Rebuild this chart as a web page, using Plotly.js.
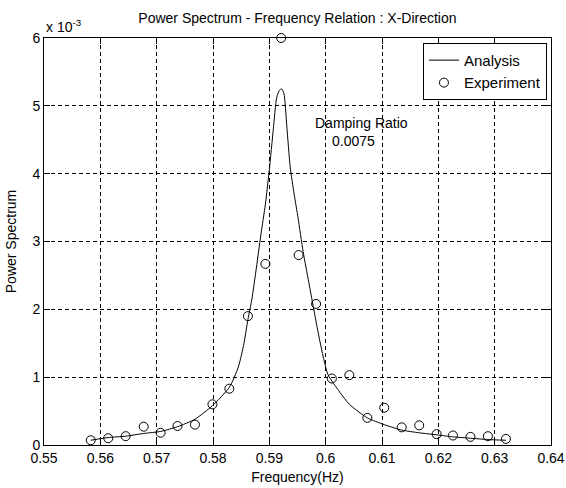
<!DOCTYPE html>
<html>
<head>
<meta charset="utf-8">
<script src="https://cdn.plot.ly/plotly-3.0.1.min.js"></script>
<style>html,body{margin:0;padding:0;background:#fff;}#chart{width:566px;height:488px;}</style>
</head>
<body>
<div id="chart"></div>
<script>
// Experiment: frequency (Hz) and power spectrum
var expFreq = [0.5583, 0.5614, 0.5645, 0.5677, 0.5707, 0.5737, 0.5768, 0.5799, 0.5829, 0.5862,
               0.5893, 0.5921, 0.5952, 0.5983, 0.6011, 0.6042, 0.6074, 0.6104, 0.6135, 0.6166,
               0.6197, 0.6226, 0.6257, 0.6288, 0.6320];
var expPower = [0.07e-3, 0.10e-3, 0.13e-3, 0.27e-3, 0.18e-3, 0.28e-3, 0.30e-3, 0.60e-3, 0.83e-3, 1.90e-3,
                2.67e-3, 6.00e-3, 2.80e-3, 2.08e-3, 0.98e-3, 1.03e-3, 0.40e-3, 0.55e-3, 0.26e-3, 0.29e-3,
                0.16e-3, 0.14e-3, 0.12e-3, 0.13e-3, 0.09e-3];

// Analysis curve
var anaFreq = [0.5583, 0.5614, 0.5645, 0.5677, 0.5707, 0.5737, 0.5768, 0.5799, 0.5829, 0.5845,
               0.5855, 0.5862, 0.5869, 0.5876, 0.5885, 0.5893, 0.5900, 0.5907, 0.5913, 0.5918,
               0.5922, 0.5926, 0.5931, 0.5937, 0.5944, 0.5951, 0.5960, 0.5970, 0.5980, 0.5990,
               0.6004, 0.6025, 0.6042, 0.6074, 0.6104, 0.6135, 0.6166, 0.6197, 0.6226, 0.6257,
               0.6288, 0.6320];
var anaPower = [0.07e-3, 0.11e-3, 0.13e-3, 0.17e-3, 0.20e-3, 0.27e-3, 0.38e-3, 0.58e-3, 0.85e-3, 1.15e-3,
                1.50e-3, 1.85e-3, 2.15e-3, 2.55e-3, 3.10e-3, 3.55e-3, 4.06e-3, 4.65e-3, 5.12e-3, 5.23e-3,
                5.25e-3, 5.18e-3, 4.70e-3, 4.10e-3, 3.70e-3, 3.35e-3, 2.85e-3, 2.40e-3, 1.95e-3, 1.52e-3,
                1.04e-3, 0.78e-3, 0.60e-3, 0.40e-3, 0.30e-3, 0.22e-3, 0.18e-3, 0.15e-3, 0.12e-3, 0.10e-3,
                0.08e-3, 0.07e-3];

var xTickVals = [0.55, 0.56, 0.57, 0.58, 0.59, 0.60, 0.61, 0.62, 0.63, 0.64];
var xTickText = ['0.55', '0.56', '0.57', '0.58', '0.59', '0.6', '0.61', '0.62', '0.63', '0.64'];
var yTickVals = [0, 0.001, 0.002, 0.003, 0.004, 0.005, 0.006];
var yTickText = ['0', '1', '2', '3', '4', '5', '6'];

var FONT = 'Liberation Sans, Arial, Helvetica, sans-serif';

var traces = [
  {
    x: anaFreq, y: anaPower, type: 'scatter', mode: 'lines', name: 'Analysis',
    line: {color: '#000', width: 1, shape: 'spline', smoothing: 0.6}
  },
  {
    x: expFreq, y: expPower, type: 'scatter', mode: 'markers', name: 'Experiment',
    marker: {symbol: 'circle-open', size: 9, color: '#000', line: {width: 1, color: '#000'}},
    cliponaxis: false
  }
];

var axisCommon = {
  showline: true, linecolor: '#000', linewidth: 1, mirror: 'ticks',
  ticks: 'inside', ticklen: 6, tickcolor: '#000', tickwidth: 1,
  showgrid: true, gridcolor: '#000', gridwidth: 1, griddash: '4px,3px',
  zeroline: false, tickfont: {family: FONT, size: 14, color: '#000'},
  fixedrange: true
};

var layout = {
  width: 566, height: 488,
  margin: {l: 44, r: 15, t: 38, b: 43},
  paper_bgcolor: '#fff', plot_bgcolor: '#fff',
  font: {family: FONT, size: 14, color: '#000'},
  title: {text: 'Power Spectrum - Frequency Relation : X-Direction',
          font: {family: FONT, size: 14, color: '#000'},
          x: 0.5255, xref: 'container', xanchor: 'center', y: 0.963, yref: 'container', yanchor: 'middle'},
  xaxis: Object.assign({}, axisCommon, {
    range: [0.55, 0.64], tickmode: 'array', tickvals: xTickVals, ticktext: xTickText,
    title: {text: 'Frequency(Hz)', font: {family: FONT, size: 14, color: '#000'}, standoff: 7}
  }),
  yaxis: Object.assign({}, axisCommon, {
    range: [0, 0.006], tickmode: 'array', tickvals: yTickVals, ticktext: yTickText,
    title: {text: 'Power Spectrum', font: {family: FONT, size: 14, color: '#000'}, standoff: 12}
  }),
  showlegend: true,
  legend: {
    x: 0.992, xanchor: 'right', y: 0.988, yanchor: 'top',
    bgcolor: '#fff', bordercolor: '#000', borderwidth: 1,
    font: {family: FONT, size: 15, color: '#000'},
    itemwidth: 30, tracegroupgap: 0
  },
  annotations: [
    {xref: 'paper', yref: 'paper', x: 0, y: 1, xanchor: 'left', yanchor: 'bottom', yshift: 1,
     text: 'x 10<sup>-3</sup>', showarrow: false, font: {family: FONT, size: 14, color: '#000'}},
    {xref: 'x', yref: 'y', x: 0.6064, y: 0.00475, text: 'Damping Ratio', showarrow: false,
     font: {family: FONT, size: 14, color: '#000'}},
    {xref: 'x', yref: 'y', x: 0.6049, y: 0.00448, text: '0.0075', showarrow: false,
     font: {family: FONT, size: 14, color: '#000'}}
  ]
};

Plotly.newPlot('chart', traces, layout, {displayModeBar: false, staticPlot: true});
</script>
</body>
</html>
